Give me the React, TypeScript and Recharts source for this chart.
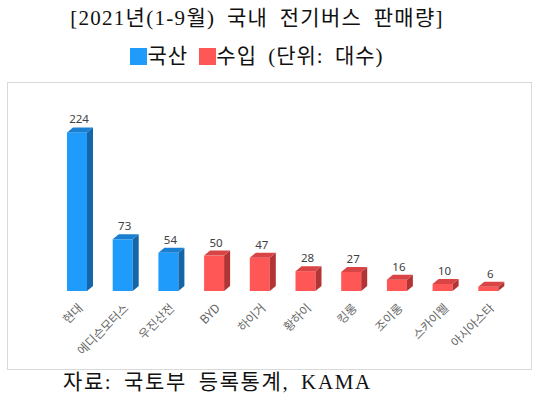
import React from 'react';
import { BarChart, Bar, XAxis, YAxis, Cell, LabelList } from 'recharts';

const categories = ['현대', '에디슨모터스', '우진산전', 'BYD', '하이거', '황하이', '킹롱', '조이롱', '스카이웰', '아시아스타'];
const values = [224, 73, 54, 50, 47, 28, 27, 16, 10, 6];
const origins = ['국산', '국산', '국산', '수입', '수입', '수입', '수입', '수입', '수입', '수입'];
const legendItems = ['국산', '수입'];

const data = categories.map((name, i) => ({ name, value: values[i], origin: origins[i] }));

const COLORS: Record<string, { front: string; side: string; top: string }> = {
  국산: { front: '#1f9bfb', side: '#1566a8', top: '#1a7fd0' },
  수입: { front: '#ff5656', side: '#b23434', top: '#d94444' },
};

const DX = 6;
const DY = 5;

const Bar3D = (props: any) => {
  const { x, y, width, height, payload } = props;
  const c = COLORS[payload.origin];
  return (
    <g>
      <rect x={x} y={y} width={width} height={height} fill={c.front} />
      <polygon
        points={`${x + width},${y} ${x + width + DX},${y - DY} ${x + width + DX},${y + height - DY} ${x + width},${y + height}`}
        fill={c.side}
      />
      <polygon
        points={`${x},${y} ${x + DX},${y - DY} ${x + width + DX},${y - DY} ${x + width},${y}`}
        fill={c.top}
      />
    </g>
  );
};

const ValueLabel = (props: any) => {
  const { x, y, width, value } = props;
  return (
    <text x={x + width / 2 + 2} y={y - DY - 4} textAnchor="middle" fontSize={11.5} fill="#404040" fontFamily="'Noto Sans', sans-serif">
      {value}
    </text>
  );
};

const CatTick = (props: any) => {
  const { x, y, payload } = props;
  return (
    <g transform={`translate(${x + 4},${y + 7})`}>
      <text x={0} y={0} dy={4} textAnchor="end" transform="rotate(-45)" fontSize={12} fill="#666" fontFamily="'Noto Sans CJK KR', sans-serif">
        {payload.value}
      </text>
    </g>
  );
};

const serif = "'Liberation Serif', 'DejaVu Serif', 'Noto Sans CJK KR', serif";

export default function App() {
  return (
    <div style={{ position: 'fixed', left: 0, top: 0, width: 540, height: 402, background: '#fff', fontFamily: serif }}>
      <div style={{ position: 'absolute', left: 0, width: 514, top: 5, textAlign: 'center', fontSize: 21, color: '#111', lineHeight: '26px', whiteSpace: 'nowrap', letterSpacing: 1.3, wordSpacing: 5 }}>
        [2021년(1-9월) 국내 전기버스 판매량]
      </div>
      <div style={{ position: 'absolute', left: 0, width: 514, top: 43, textAlign: 'center', fontSize: 21, color: '#111', lineHeight: '26px', whiteSpace: 'nowrap', letterSpacing: 1, wordSpacing: 5 }}>
        {legendItems.map((k, i) => (
          <span key={k}>
            <span style={{ display: 'inline-block', width: 17, height: 17, background: COLORS[k].front, verticalAlign: -2 }} />
            {k}
            {i === 0 ? ' ' : ''}
          </span>
        ))}
        {' (단위: 대수)'}
      </div>
      <div style={{ position: 'absolute', left: 7, top: 82, width: 525, height: 288, border: '1px solid #d9d9d9', boxSizing: 'border-box' }}>
        <BarChart width={523} height={286} data={data} margin={{ top: 31, right: 20, left: 46, bottom: 8 }} barSize={20}>
          <YAxis hide domain={[0, 250]} />
          <XAxis dataKey="name" axisLine={false} tickLine={false} interval={0} height={70} tick={<CatTick />} />
          <Bar dataKey="value" shape={<Bar3D />} isAnimationActive={false}>
            {data.map((d, i) => (
              <Cell key={i} fill={COLORS[d.origin].front} />
            ))}
            <LabelList dataKey="value" content={<ValueLabel />} />
          </Bar>
        </BarChart>
      </div>
      <div style={{ position: 'absolute', left: 63, top: 369, fontSize: 21, color: '#111', lineHeight: '26px', whiteSpace: 'nowrap', letterSpacing: 1.6, wordSpacing: 5 }}>
        자료: 국토부 등록통계, KAMA
      </div>
    </div>
  );
}
